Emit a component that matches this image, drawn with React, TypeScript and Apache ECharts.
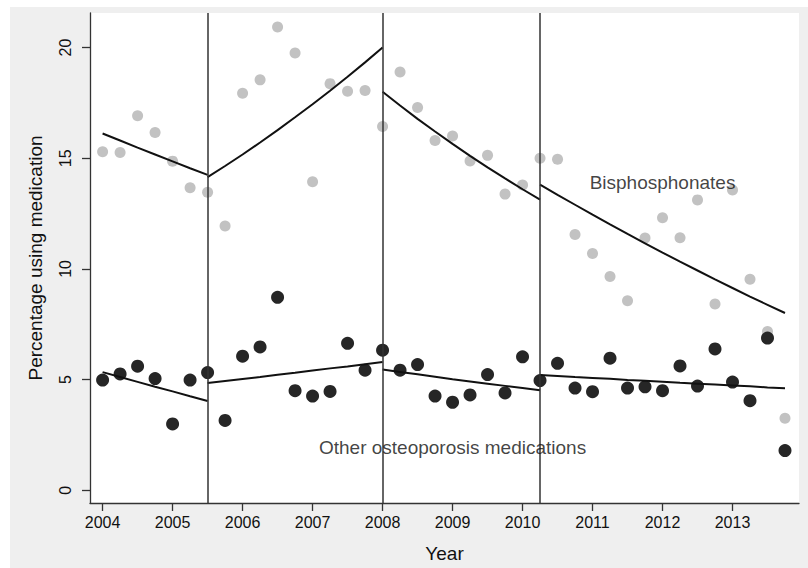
import React, { useEffect, useRef } from "react";
import * as echarts from "echarts";

const quarters = [
  2004, 2004.25, 2004.5, 2004.75, 2005, 2005.25, 2005.5, 2005.75,
  2006, 2006.25, 2006.5, 2006.75, 2007, 2007.25, 2007.5, 2007.75,
  2008, 2008.25, 2008.5, 2008.75, 2009, 2009.25, 2009.5, 2009.75,
  2010, 2010.25, 2010.5, 2010.75, 2011, 2011.25, 2011.5, 2011.75,
  2012, 2012.25, 2012.5, 2012.75, 2013, 2013.25, 2013.5, 2013.75,
];

const bisphosphonates = [
  15.29, 15.26, 16.92, 16.16, 14.87, 13.67, 13.46, 11.94,
  17.94, 18.54, 20.93, 19.75, 13.94, 18.37, 18.03, 18.06,
  16.43, 18.9, 17.29, 15.8, 16.0, 14.88, 15.13, 13.38,
  13.79, 15.0, 14.95, 11.56, 10.7, 9.66, 8.56, 11.4,
  12.31, 11.41, 13.12, 8.42, 13.57, 9.54, 7.18, 3.26,
];

const otherMeds = [
  4.98, 5.26, 5.61, 5.05, 3.0, 4.98, 5.32, 3.16,
  6.06, 6.48, 8.72, 4.5, 4.26, 4.47, 6.64, 5.43,
  6.33, 5.43, 5.68, 4.26, 3.98, 4.31, 5.23, 4.4,
  6.03, 4.96, 5.74, 4.62, 4.46, 5.97, 4.62, 4.68,
  4.5, 5.62, 4.71, 6.39, 4.89, 4.05, 6.88, 1.8,
];

// fitted segments (quarterly predicted values), start index into quarters
const segmentStarts = [0, 6, 16, 25];
const bisFit1 = [16.12, 15.8, 15.48, 15.17, 14.86, 14.55, 14.25];
const bisFit2 = [14.15, 14.65, 15.17, 15.71, 16.27, 16.85, 17.44, 18.05, 18.68, 19.33, 20.0];
const bisFit3 = [18.0, 17.38, 16.78, 16.21, 15.65, 15.11, 14.59, 14.09, 13.6, 13.13];
const bisFit4 = [13.81, 13.35, 12.9, 12.45, 12.01, 11.58, 11.16, 10.74, 10.33, 9.93, 9.53, 9.14, 8.75, 8.38, 8.01];
const otherFit1 = [5.34, 5.12, 4.9, 4.68, 4.47, 4.25, 4.04];
const otherFit2 = [4.85, 4.94, 5.03, 5.12, 5.22, 5.31, 5.41, 5.51, 5.6, 5.7, 5.8];
const otherFit3 = [5.46, 5.35, 5.24, 5.13, 5.02, 4.92, 4.82, 4.72, 4.62, 4.52];
const otherFit4 = [5.21, 5.17, 5.12, 5.08, 5.04, 4.99, 4.95, 4.91, 4.86, 4.82, 4.78, 4.74, 4.7, 4.65, 4.61];

const breakYears = [2005.5, 2008, 2010.25];
const xTicks = [2004, 2005, 2006, 2007, 2008, 2009, 2010, 2011, 2012, 2013];
const yTicks = [0, 5, 10, 15, 20];

const seriesLabels = [
  { text: "Bisphosphonates", x: 2012.0, y: 13.91 },
  { text: "Other osteoporosis medications", x: 2009.0, y: 1.92 },
];

const FONT = "'Liberation Sans', Arial, Helvetica, sans-serif";

function pairs(xs: number[], ys: number[]) {
  return ys.map((v, i) => [xs[i], v]);
}

export default function App() {
  const ref = useRef<HTMLDivElement>(null);
  useEffect(() => {
    if (!ref.current) return;
    const chart = echarts.init(ref.current, undefined, { renderer: "svg" });
    const fits = [bisFit1, bisFit2, bisFit3, bisFit4, otherFit1, otherFit2, otherFit3, otherFit4];
    const fitSeries = fits.map((vals, k) => {
      const start = segmentStarts[k % 4];
      return {
        type: "line",
        data: pairs(quarters.slice(start, start + vals.length), vals),
        symbol: "none",
        lineStyle: { color: "#111", width: 2 },
        z: 4,
        silent: true,
      };
    });
    const option: any = {
      animation: false,
      backgroundColor: "#efefef",
      graphic: [
        { type: "rect", shape: { x: 0, y: 0, width: 10, height: 568 }, style: { fill: "#fff" }, silent: true },
        { type: "rect", shape: { x: 0, y: 0, width: 808, height: 7 }, style: { fill: "#fff" }, silent: true },
      ],
      grid: {
        left: 90,
        right: 9,
        top: 13,
        bottom: 62,
        show: true,
        backgroundColor: "#fff",
        borderWidth: 0,
      },
      xAxis: {
        type: "value",
        min: 2003.82,
        max: 2013.95,
        name: "Year",
        nameLocation: "middle",
        nameGap: 41,
        nameTextStyle: { fontFamily: FONT, fontSize: 19, color: "#111" },
        axisLine: { show: true, onZero: false, lineStyle: { color: "#333", width: 1.3 } },
        axisTick: { show: true, length: 8, customValues: xTicks, lineStyle: { color: "#333", width: 1.3 } },
        axisLabel: {
          customValues: xTicks,
          formatter: (v: number) => String(v),
          margin: 11,
          fontFamily: FONT,
          fontSize: 16,
          color: "#111",
        },
        splitLine: { show: false },
      },
      yAxis: {
        type: "value",
        min: -0.57,
        max: 21.56,
        name: "Percentage using medication",
        nameLocation: "middle",
        nameGap: 45,
        nameRotate: 90,
        nameTextStyle: { fontFamily: FONT, fontSize: 19, color: "#111" },
        axisLine: { show: true, onZero: false, lineStyle: { color: "#333", width: 1.3 } },
        axisTick: { show: true, length: 8, customValues: yTicks, lineStyle: { color: "#333", width: 1.3 } },
        axisLabel: {
          customValues: yTicks,
          formatter: (v: number) => String(v),
          rotate: 90,
          margin: 17,
          fontFamily: FONT,
          fontSize: 16,
          color: "#111",
        },
        splitLine: { show: false },
      },
      series: [
        {
          type: "scatter",
          data: pairs(quarters, bisphosphonates),
          symbolSize: 11,
          itemStyle: { color: "#c2c2c2", opacity: 1 },
          z: 2,
          silent: true,
        },
        {
          type: "scatter",
          data: pairs(quarters, otherMeds),
          symbolSize: 13,
          itemStyle: { color: "#262626", opacity: 1 },
          z: 3,
          silent: true,
        },
        ...fitSeries,
        {
          type: "scatter",
          data: seriesLabels.map((l) => ({ value: [l.x, l.y], name: l.text })),
          symbolSize: 1,
          itemStyle: { color: "rgba(0,0,0,0)" },
          label: {
            show: true,
            position: "inside",
            formatter: (p: any) => p.name,
            fontFamily: FONT,
            fontSize: 19,
            color: "#111",
          },
          z: 6,
          silent: true,
          markLine: {
            silent: true,
            symbol: "none",
            label: { show: false },
            lineStyle: { color: "#333", width: 1.5, type: "solid" },
            data: breakYears.map((x) => ({ xAxis: x })),
          },
        },
      ],
    };
    chart.setOption(option);
    return () => chart.dispose();
  }, []);
  return (
    <div
      ref={ref}
      style={{ position: "fixed", left: 0, top: 0, width: 808, height: 568 }}
    />
  );
}
